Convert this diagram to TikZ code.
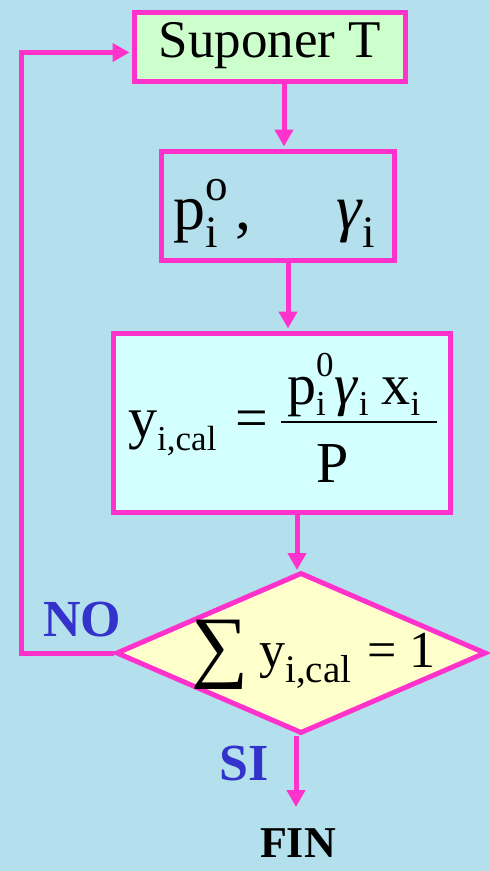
\documentclass[tikz,border=0pt]{standalone}
\usepackage{fontspec}
\setmainfont{Liberation Serif}
\usetikzlibrary{shapes.geometric,arrows.meta}
\definecolor{bg}{RGB}{179,224,236}
\definecolor{pk}{RGB}{255,51,204}
\definecolor{gr}{RGB}{204,255,204}
\definecolor{cy}{RGB}{212,255,255}
\definecolor{yl}{RGB}{255,255,204}
\definecolor{bl}{RGB}{51,51,204}
\newcommand{\fsz}[1]{\fontsize{#1}{#1}\selectfont}
\begin{document}
\begin{tikzpicture}[x=1pt,y=-1pt,
  box/.style={draw=pk,line width=5pt,rectangle,inner sep=0pt},
  arr/.style={draw=pk,line width=5pt,-{Triangle[width=18pt,length=17pt]}},
  lbl/.style={inner sep=0pt,font=\bfseries\fontsize{52}{56}\selectfont},
  txt/.style={inner sep=0pt},
  bw/.style={inner sep=0pt,anchor=base west}]
\fill[bg] (0,0) rectangle (490,871);
\useasboundingbox (0,0) rectangle (490,871);

% box 1
\node[box,fill=gr,minimum width=271pt,minimum height=69pt] (b1) at (269.5,46.5) {};
\node[txt,font=\fsz{53}] (t1) at (270,46) {Suponer T};

% box 2
\node[box,fill=bg,minimum width=233pt,minimum height=109pt] (b2) at (277.5,205.5) {};
\node[bw,font=\fsz{64}] (t2a) at (173,229) {p\rlap{\raisebox{-18pt}{\fsz{45}i}}\raisebox{29pt}{\fsz{45}o}\hspace{8pt},};
\node[bw,font=\fsz{64}] (t2b) at (336,229) {\textit{γ}\raisebox{-18pt}{\fsz{45}i}};

% box 3
\node[box,fill=cy,minimum width=337pt,minimum height=179pt] (b3) at (281.5,422.5) {};
\node[bw,font=\fsz{58}] (t3a) at (128,437) {y\raisebox{-13pt}{\fsz{35}i,cal}};
\node[bw,font=\fsz{58}] (t3b) at (235,437) {=};
\node[bw,font=\fsz{58}] (t3n) at (287,404) {p\rlap{\raisebox{-11pt}{\fsz{35}i}}\raisebox{28pt}{\fsz{35}0}\hspace{1pt}\textit{γ}\raisebox{-11pt}{\fsz{35}i}\hspace{13pt}x\raisebox{-11pt}{\fsz{35}i}};
\node[bw,font=\fsz{58}] (t3d) at (316,482) {P};
\draw[line width=2pt] (281,422) -- (437,422);

% decision
\node[draw=pk,fill=yl,line width=5pt,diamond,inner sep=0pt,minimum width=370pt,minimum height=161pt] (d) at (301,653) {};
\node[txt,font=\fsz{80}] (t4s) at (220.5,655) {∑};
\node[bw,font=\fsz{52}] (t4a) at (259,667) {y\raisebox{-15pt}{\fsz{39}i,cal}\hspace{16pt}= 1};

\node[lbl,text=bl] (no) at (82,620) {NO};
\node[lbl,text=bl] (si) at (244,764) {SI};
\node[inner sep=0pt,font=\bfseries\fontsize{44}{48}\selectfont] (fin) at (298,843) {FIN};

\coordinate (finend) at (296,807);
\coordinate (lp) at (21,653);
\coordinate (lt) at (21,52.5);

\draw[arr,shorten >=2pt] ([xshift=14.5pt]b1.south) -- ([xshift=14.5pt]b1.south |- b2.north);
\draw[arr,shorten >=2pt] ([xshift=10.5pt]b2.south) -- ([xshift=10.5pt]b2.south |- b3.north);
\draw[arr] ([xshift=15.5pt]b3.south) -- ([xshift=15.5pt]b3.south |- d.north);
\draw[arr] (d.south -| finend) -- (finend);
\draw[arr,shorten >=2pt] (d.west) -- (lp) -- (lt) -- (lt -| b1.west);
\end{tikzpicture}
\end{document}
